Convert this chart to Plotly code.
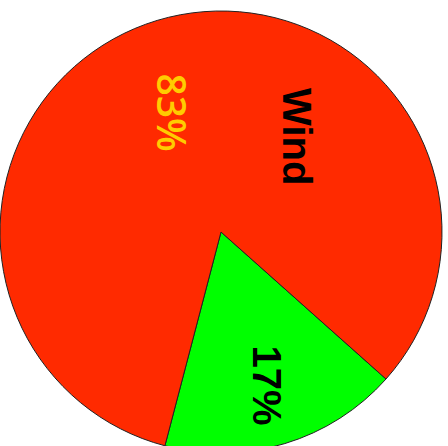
import plotly.graph_objects as go

labels = ["Other", "Wind"]
values = [17.5, 82.5]
colors = ["#00FF00", "#FF2A00"]
pct_text = ["17%", "83%"]

W, H = 448, 454
ML, MR, MT, MB = 0, 6, 11, 1
PW, PH = W - ML - MR, H - MT - MB


def px(x, y):
    return (x - ML) / PW, 1 - (y - MT) / PH


fig = go.Figure(
    go.Pie(
        labels=labels,
        values=values,
        sort=False,
        direction="clockwise",
        rotation=131.7,
        marker=dict(colors=colors, line=dict(color="#222222", width=1)),
        textinfo="none",
        hoverinfo="label+percent",
        showlegend=False,
    )
)

ann = [
    (labels[1], 297.5, 136.5, "#000000", 40, "Liberation Sans, Arial, sans-serif", 700),
    (pct_text[1], 171.5, 112, "#FFCC00", 39, "Open Sans, sans-serif", 600),
    (pct_text[0], 266.5, 385, "#000000", 40, "Liberation Sans, Arial, sans-serif", 700),
]
for text, x, y, col, size, fam, wt in ann:
    ax, ay = px(x, y)
    fig.add_annotation(
        x=ax, y=ay, xref="paper", yref="paper", text=text,
        showarrow=False, textangle=90,
        font=dict(family=fam, size=size, color=col, weight=wt),
        xanchor="center", yanchor="middle",
    )

fig.update_layout(
    width=W, height=H,
    margin=dict(l=ML, r=MR, t=MT, b=MB),
    paper_bgcolor="white", plot_bgcolor="white",
)

fig.write_html(
    "out.html",
    config={"displayModeBar": False},
    post_script="document.body.style.margin='0';document.body.style.overflow='hidden';",
)
